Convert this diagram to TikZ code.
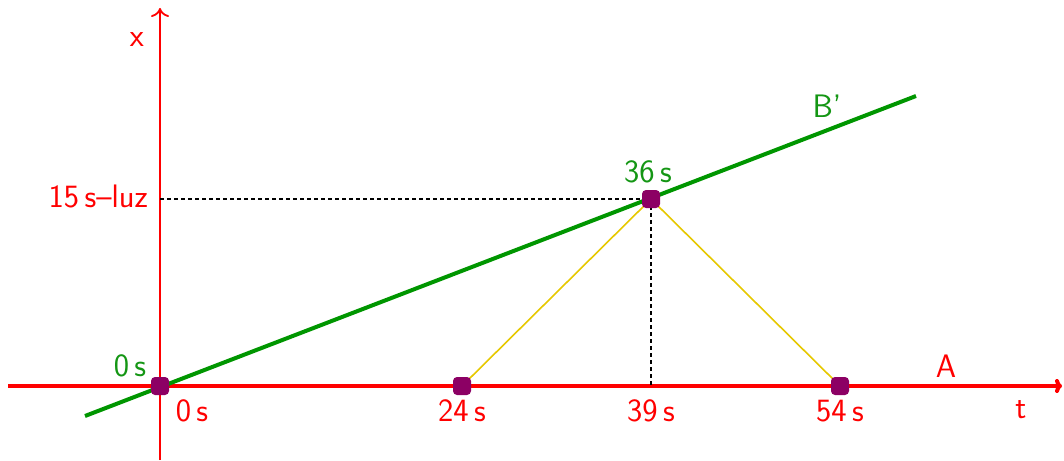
\documentclass[tikz,border=0pt]{standalone}
\usepackage{tikz}
\usetikzlibrary{arrows.meta}
\definecolor{axred}{RGB}{255,0,0}
\definecolor{lgreen}{RGB}{0,150,0}
\definecolor{tgreen}{RGB}{20,150,20}
\definecolor{yel}{RGB}{230,200,0}
\definecolor{pur}{RGB}{140,0,100}
\begin{document}
\begin{tikzpicture}[x=1pt,y=-1pt,
  every node/.style={font=\sffamily\fontsize{32.5}{38}\selectfont},
  ev/.style={fill=pur,draw=none,rounded corners=4pt,minimum size=18pt,inner sep=0pt},
  redlab/.style={text=axred,inner sep=0pt},
  greenlab/.style={text=tgreen,inner sep=0pt},
  dsh/.style={draw=black,line width=1.3pt,dash pattern=on 4pt off 3pt},
  ray/.style={draw=yel,line width=1.6pt}]
\useasboundingbox (0,0) rectangle (1064,460);
% axes
\coordinate (xb) at (160,460);
\coordinate (xt) at (160,8);
\coordinate (tl) at (8,386);
\coordinate (tr) at (1062,386);
\draw[axred,line width=1.8pt,-{To[length=9pt,width=18pt]}] (xb) -- (xt);
\draw[axred,line width=4pt,-{To[length=7pt,width=14pt]}] (tl) -- (tr);
% world line B'
\coordinate (bs) at (85,416);
\coordinate (be) at (916,96);
\draw[lgreen,line width=4pt] (bs) -- (be);
% events
\coordinate (c0) at (160,386);
\coordinate (c24) at (462,386);
\coordinate (c36) at (651,199);
\coordinate (c54) at (840,386);
\coordinate (cy) at (160,199);
\coordinate (cx) at (651,386);
\draw[dsh] (cy) -- (c36);
\draw[dsh] (c36) -- (cx);
\draw[ray] (c24) -- (c36);
\draw[ray] (c36) -- (c54);
\node[ev] (p0) at (c0) {};
\node[ev] (p24) at (c24) {};
\node[ev] (p36) at (c36) {};
\node[ev] (p54) at (c54) {};
% labels
\node[redlab] (lx) at (137,40) {x};
\node[redlab,anchor=east] (l15) at (148,196) {15\,s\textendash luz};
\node[greenlab] (l36) at (648,172) {36\,s};
\node[greenlab] (lg0) at (130,366) {0\,s};
\node[redlab] (lr0) at (192,411) {0\,s};
\node[redlab] (l24) at (462,411) {24\,s};
\node[redlab] (l39) at (651,411) {39\,s};
\node[redlab] (l54) at (840,411) {54\,s};
\node[redlab] (lt) at (1021,410) {t};
\node[redlab] (lA) at (946,366) {A};
\node[greenlab] (lB) at (827,106) {B\textquoteright};
\end{tikzpicture}
\end{document}
